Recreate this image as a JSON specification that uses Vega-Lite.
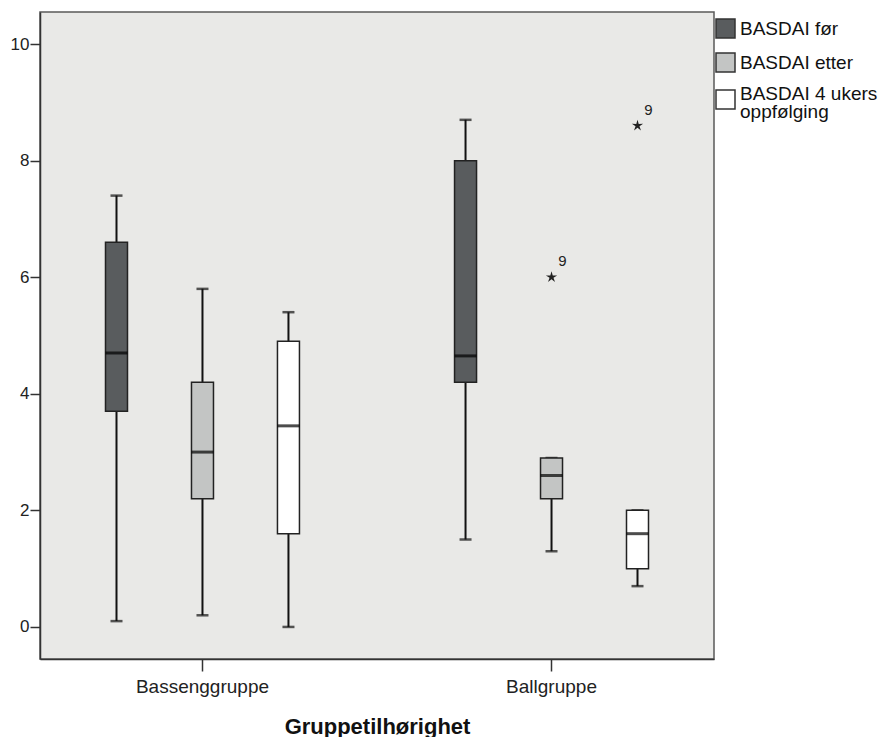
{
  "$schema": "https://vega.github.io/schema/vega-lite/v6.json",
  "width": 674,
  "height": 647,
  "autosize": {"type": "none"},
  "padding": {"left": 40, "top": 12, "right": 171, "bottom": 78},
  "background": "white",
  "config": {
    "view": {"fill": "#e9e9e7", "stroke": "#5a5a5a", "strokeWidth": 1.5},
    "font": "Liberation Sans",
    "axis": {"labelFont": "Liberation Sans", "titleFont": "Liberation Sans", "labelColor": "#222", "domainColor": "#333", "tickColor": "#333", "domainWidth": 1.5, "tickWidth": 1.5, "grid": false},
    "legend": {"labelFont": "Liberation Sans"}
  },
  "datasets": {
    "boxes": [
      {"group": "Bassenggruppe", "series": "BASDAI før", "lower": 0.1, "q1": 3.7, "median": 4.7, "q3": 6.6, "upper": 7.4},
      {"group": "Bassenggruppe", "series": "BASDAI etter", "lower": 0.2, "q1": 2.2, "median": 3.0, "q3": 4.2, "upper": 5.8},
      {"group": "Bassenggruppe", "series": "BASDAI 4 ukers oppfølging", "lower": 0.0, "q1": 1.6, "median": 3.45, "q3": 4.9, "upper": 5.4},
      {"group": "Ballgruppe", "series": "BASDAI før", "lower": 1.5, "q1": 4.2, "median": 4.65, "q3": 8.0, "upper": 8.7},
      {"group": "Ballgruppe", "series": "BASDAI etter", "lower": 1.3, "q1": 2.2, "median": 2.6, "q3": 2.9, "upper": 2.9},
      {"group": "Ballgruppe", "series": "BASDAI 4 ukers oppfølging", "lower": 0.7, "q1": 1.0, "median": 1.6, "q3": 2.0, "upper": 2.0}
    ],
    "outliers": [
      {"group": "Ballgruppe", "series": "BASDAI etter", "value": 6.0, "case": "9"},
      {"group": "Ballgruppe", "series": "BASDAI 4 ukers oppfølging", "value": 8.6, "case": "9"}
    ]
  },
  "encoding": {
    "x": {
      "field": "group", "type": "nominal",
      "sort": ["Bassenggruppe", "Ballgruppe"],
      "scale": {"paddingInner": 0.261, "paddingOuter": 0.096},
      "axis": {"title": "Gruppetilhørighet", "labelAngle": 0, "labelFontSize": 19, "tickSize": 12, "labelPadding": 6, "titleFontSize": 22, "titleFontWeight": "bold", "titleColor": "#111", "titlePadding": 20}
    },
    "xOffset": {
      "field": "series", "type": "nominal",
      "sort": ["BASDAI før", "BASDAI etter", "BASDAI 4 ukers oppfølging"],
      "scale": {"paddingInner": 0, "paddingOuter": 0}
    }
  },
  "layer": [
    {
      "data": {"name": "boxes"},
      "mark": {"type": "rule", "color": "#111", "strokeWidth": 2},
      "encoding": {
        "y": {"field": "lower", "type": "quantitative", "scale": {"domain": [-0.55, 10.55], "nice": false, "zero": false}, "axis": {"title": null, "values": [0, 2, 4, 6, 8, 10], "format": "d", "labelFontSize": 17, "tickSize": 10, "labelPadding": 1}},
        "y2": {"field": "upper"}
      }
    },
    {
      "data": {"name": "boxes"},
      "mark": {"type": "tick", "color": "#111", "size": 12, "thickness": 2.5},
      "encoding": {"y": {"field": "lower", "type": "quantitative"}}
    },
    {
      "data": {"name": "boxes"},
      "mark": {"type": "tick", "color": "#111", "size": 12, "thickness": 2.5},
      "encoding": {"y": {"field": "upper", "type": "quantitative"}}
    },
    {
      "data": {"name": "boxes"},
      "mark": {"type": "bar", "size": 22, "stroke": "#222", "strokeWidth": 1.5},
      "encoding": {
        "y": {"field": "q1", "type": "quantitative"},
        "y2": {"field": "q3"},
        "fill": {
          "field": "series", "type": "nominal",
          "scale": {"domain": ["BASDAI før", "BASDAI etter", "BASDAI 4 ukers oppfølging"], "range": ["#595c5e", "#c3c5c4", "#ffffff"]},
          "legend": {
            "title": null, "orient": "none", "legendX": 675, "legendY": 6, "padding": 0,
            "symbolType": "square", "symbolSize": 361, "symbolStrokeColor": "#333", "symbolStrokeWidth": 1.5,
            "labelFontSize": 19, "labelColor": "#111", "labelOffset": 4, "labelLimit": 300, "rowPadding": 9,
            "labelExpr": "datum.label == 'BASDAI 4 ukers oppfølging' ? ['BASDAI 4 ukers', 'oppfølging'] : datum.label",
            "encode": {"labels": {"update": {"lineHeight": {"value": 18}, "dy": {"signal": "datum.value == 'BASDAI 4 ukers oppfølging' ? -6 : 0"}}}}
          }
        }
      }
    },
    {
      "data": {"name": "boxes"},
      "mark": {"type": "tick", "color": "#000", "size": 22, "thickness": 3},
      "encoding": {"y": {"field": "median", "type": "quantitative"}}
    },
    {
      "data": {"name": "outliers"},
      "mark": {"type": "point", "shape": "M0,-1L0.206,-0.283L0.951,-0.309L0.333,0.108L0.588,0.809L0,0.35L-0.588,0.809L-0.333,0.108L-0.951,-0.309L-0.206,-0.283Z", "filled": true, "color": "#222", "size": 140, "opacity": 1},
      "encoding": {"y": {"field": "value", "type": "quantitative"}}
    },
    {
      "data": {"name": "outliers"},
      "mark": {"type": "text", "dx": 11, "dy": -16, "fontSize": 15, "color": "#222", "font": "Liberation Sans"},
      "encoding": {"y": {"field": "value", "type": "quantitative"}, "text": {"field": "case"}}
    }
  ]
}
